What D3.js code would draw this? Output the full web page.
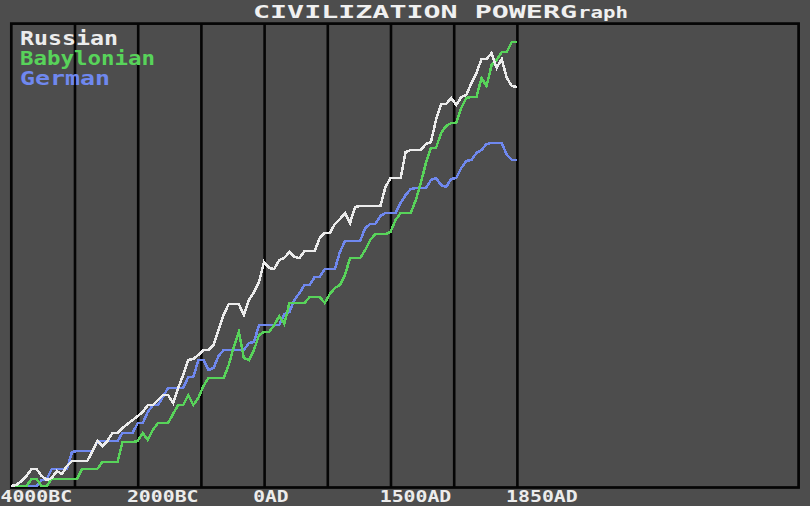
<!DOCTYPE html>
<html><head><meta charset="utf-8">
<script src="https://cdn.jsdelivr.net/npm/d3@7"></script>
<style>html,body{margin:0;padding:0;background:#4d4d4d;overflow:hidden}</style>
</head><body><svg id="c" width="810" height="506"></svg>
<script>
// turn index (x categories)
const turns = [0,4,8,12,16,20,24,28,32,36,40,44,48,52,56,60,64,68,72,76,80,84,88,92,96,100,104,108,112,116,120,124,128,132,136,140,144,148,152,156,160,164,168,172,176,180,184,188,192,196,200,204,208,212,216,220,224,228,232,236,240,244,248,252,256,260,264,268,272,276,280,284,288,292,296,300,304,308,312,316,320,324,328,332,336,340,344,348,352,356,360,364,368,372,376,380,384,388,392,396,400];
const russian = [0,1,5,10,17,17,10,6,8,15,12,20,25,25,25,25,34,45,40,45,53,53,58,62,66,70,74,81,81,86,91,91,83,98,111,126,127,131,136,136,141,156,171,182,182,182,171,186,194,204,224,218,217,226,228,234,229,228,235,235,235,248,253,253,262,267,273,263,279,280,280,280,280,280,299,308,308,308,334,336,336,336,342,344,366,382,382,388,381,389,391,403,413,427,427,433,418,427,408,400,399];
const babylonian = [0,0,0,0,7,7,0,0,7,7,7,7,7,7,17,17,17,17,24,24,24,24,44,44,44,45,53,46,56,63,63,63,72,81,81,91,81,88,100,108,108,108,108,121,139,154,128,126,136,151,154,154,161,170,162,183,183,183,183,189,189,189,183,192,198,201,211,228,228,228,236,246,252,252,252,254,266,273,273,273,286,303,323,338,338,353,360,363,363,378,388,389,389,408,400,421,426,434,434,444,444];
const german = [0,0,0,0,0,0,6,7,17,17,17,17,34,35,35,35,35,44,45,45,45,45,53,53,53,63,63,74,81,81,89,98,98,98,98,109,109,126,126,116,118,130,136,136,136,136,136,143,144,161,161,161,161,161,172,174,186,193,201,201,209,209,217,217,217,234,245,245,245,245,258,262,262,270,273,273,273,283,291,297,298,298,298,306,308,301,299,307,308,318,325,326,333,336,342,343,343,343,331,326,326];
const seriesNames = ["Russian","Babylonian","German"];
const tickTurns = [0,100,200,300,400];
const tickLabels = ["4000BC","2000BC","0AD","1500AD","1850AD"];
const gridTurns = [50,100,150,200,250,300,350,400];

const W = 810, H = 506;
const colors = ["#ececec","#58d35a","#6f88ef"];
const svg = d3.select("#c");
svg.append("rect").attr("width",W).attr("height",H).attr("fill","#4d4d4d");

const frame = {x0:11.3, x1:798.6, y0:23.6, y1:487.5};
const x = d3.scaleLinear().domain([0,400]).range([11.3,516.9]);
const y = d3.scaleLinear().domain([0,463]).range([486,23]);

// vertical grid lines
const gridAxis = d3.axisBottom(x).tickValues(gridTurns).tickSize(-(frame.y1-frame.y0)).tickFormat("");
const gg = svg.append("g").attr("transform",`translate(0,${frame.y1})`).call(gridAxis);
gg.select(".domain").remove();
gg.selectAll(".tick line").attr("stroke","#050505").attr("stroke-width",2.6);

// frame
svg.append("rect").attr("x",frame.x0).attr("y",frame.y0)
  .attr("width",frame.x1-frame.x0).attr("height",frame.y1-frame.y0)
  .attr("fill","none").attr("stroke","#050505").attr("stroke-width",2.7);

// tick labels
const labAxis = d3.axisBottom(x).tickValues(tickTurns).tickSize(0).tickFormat((d,i)=>tickLabels[i]);
const la = svg.append("g").attr("transform","translate(0,489)").call(labAxis);
la.select(".domain").remove();
la.selectAll(".tick text")
  .attr("text-anchor","start").attr("x",-11.3).attr("y",13).attr("dy",0)
  .attr("fill","#ececec").attr("font-family","'DejaVu Sans Mono', monospace")
  .attr("font-size",16).attr("font-weight","bold")
  .attr("textLength",function(){return this.textContent.length*12.1-1;})
  .attr("lengthAdjust","spacingAndGlyphs");

// lines
const allSeries = [russian, babylonian, german];
const line = d3.line().x((d,i)=>x(turns[i])).y(d=>y(d));
// draw in order: german, babylonian, russian? keep reference look: russian on top
[2,1,0].forEach(k=>{
  svg.append("path").datum(allSeries[k]).attr("d",line)
    .attr("fill","none").attr("stroke",colors[k]).attr("stroke-width",2.5)
    .attr("stroke-linejoin","miter").attr("shape-rendering","crispEdges");
});

// legend
const legW = [98,135,90];
seriesNames.forEach((n,i)=>{
  svg.append("text").attr("x",20).attr("y",45+i*20).text(n)
    .attr("fill",colors[i]).attr("font-family","'DejaVu Sans Mono', monospace")
    .attr("font-size",19).attr("font-weight","bold")
    .attr("textLength",legW[i]).attr("lengthAdjust","spacingAndGlyphs");
});

// title
svg.append("text").attr("x",253).attr("y",18).text("CIVILIZATION POWERG")
  .attr("fill","#f0f0f0").attr("font-family","'DejaVu Sans Mono', monospace")
  .attr("font-size",18).attr("font-weight","bold")
  .attr("textLength",324).attr("lengthAdjust","spacingAndGlyphs");
svg.append("text").attr("x",578).attr("y",18).text("raph")
  .attr("fill","#f0f0f0").attr("font-family","'DejaVu Sans Mono', monospace")
  .attr("font-size",15).attr("font-weight","bold")
  .attr("textLength",50).attr("lengthAdjust","spacingAndGlyphs");
</script></body></html>
